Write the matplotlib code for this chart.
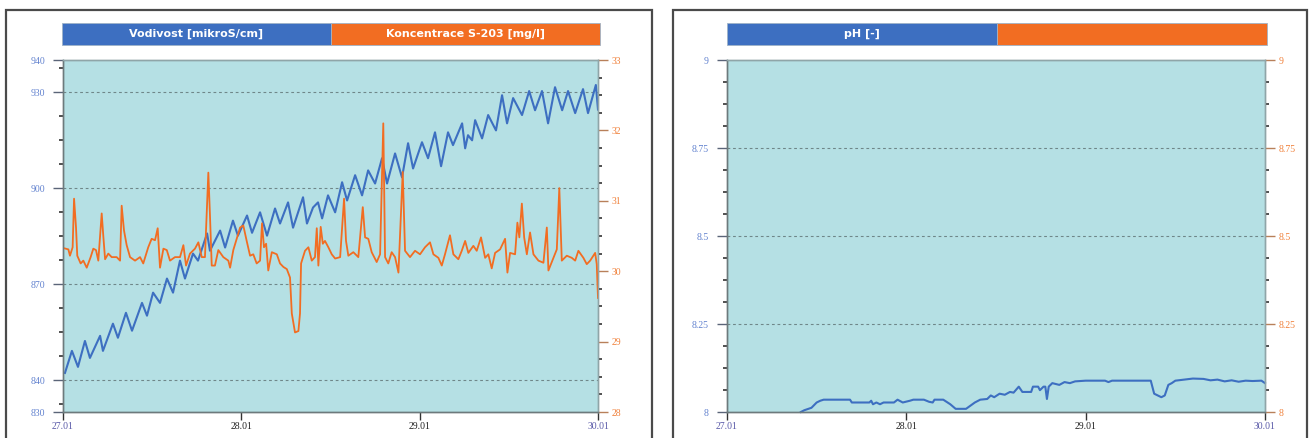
import matplotlib
matplotlib.use("Agg")
import matplotlib.pyplot as plt
from matplotlib.patches import Rectangle
from matplotlib.ticker import FixedLocator, MultipleLocator

# --- data (time = days since 27.01 00:00) ---
cond_t = [0.011, 0.050, 0.084, 0.123, 0.151, 0.208, 0.224, 0.280, 0.308, 0.353,
          0.387, 0.443, 0.471, 0.505, 0.544, 0.583, 0.617, 0.656, 0.684, 0.729,
          0.757, 0.808, 0.824, 0.881, 0.909, 0.953, 0.981, 1.032, 1.060, 1.105,
          1.144, 1.189, 1.217, 1.262, 1.290, 1.346, 1.368, 1.402, 1.430, 1.453,
          1.486, 1.526, 1.565, 1.593, 1.638, 1.677, 1.711, 1.750, 1.789, 1.817,
          1.862, 1.901, 1.935, 1.963, 2.013, 2.047, 2.086, 2.120, 2.159, 2.187,
          2.238, 2.255, 2.271, 2.294, 2.311, 2.350, 2.384, 2.428, 2.462, 2.490,
          2.524, 2.574, 2.614, 2.647, 2.686, 2.720, 2.759, 2.799, 2.832, 2.872,
          2.916, 2.944, 2.988, 3.000]
cond_v = [842.2, 849.1, 844.1, 852.2, 846.9, 853.8, 849.1, 857.6, 853.2, 861.0,
          855.4, 864.1, 860.1, 867.3, 864.1, 871.7, 867.3, 877.3, 871.7, 879.5,
          877.3, 885.8, 880.4, 886.7, 881.4, 889.8, 885.1, 891.4, 886.0, 892.4,
          885.1, 893.6, 888.9, 895.5, 887.6, 897.1, 888.9, 893.9, 895.5, 890.5,
          897.7, 892.4, 901.8, 896.1, 904.0, 897.7, 905.5, 901.4, 909.3, 901.4,
          910.8, 903.3, 914.0, 906.1, 914.3, 909.3, 917.4, 906.8, 917.4, 913.4,
          920.2, 912.4, 916.5, 914.9, 921.2, 915.5, 922.8, 918.0, 929.0, 920.2,
          928.1, 922.8, 930.3, 924.3, 930.3, 920.2, 931.5, 924.3, 930.3, 923.4,
          930.9, 923.4, 932.2, 924.5]

conc_t = [0.000, 0.030, 0.039, 0.054, 0.062, 0.073, 0.080, 0.099, 0.114, 0.133,
          0.155, 0.170, 0.185, 0.198, 0.217, 0.226, 0.236, 0.254, 0.273, 0.301,
          0.320, 0.329, 0.342, 0.357, 0.376, 0.404, 0.432, 0.450, 0.478, 0.497,
          0.516, 0.531, 0.544, 0.563, 0.582, 0.600, 0.628, 0.656, 0.675, 0.690,
          0.712, 0.740, 0.759, 0.778, 0.796, 0.815, 0.824, 0.834, 0.852, 0.871,
          0.899, 0.927, 0.937, 0.955, 0.993, 1.011, 1.030, 1.049, 1.067, 1.086,
          1.105, 1.116, 1.127, 1.139, 1.151, 1.171, 1.199, 1.217, 1.236, 1.255,
          1.273, 1.283, 1.301, 1.320, 1.329, 1.335, 1.357, 1.376, 1.395, 1.413,
          1.423, 1.432, 1.445, 1.457, 1.469, 1.488, 1.507, 1.526, 1.554, 1.576,
          1.587, 1.600, 1.628, 1.656, 1.681, 1.694, 1.712, 1.731, 1.759, 1.778,
          1.796, 1.806, 1.824, 1.843, 1.862, 1.881, 1.905, 1.918, 1.946, 1.974,
          2.002, 2.030, 2.058, 2.077, 2.105, 2.124, 2.142, 2.170, 2.189, 2.217,
          2.236, 2.255, 2.273, 2.301, 2.320, 2.344, 2.367, 2.385, 2.404, 2.423,
          2.451, 2.479, 2.492, 2.507, 2.535, 2.548, 2.559, 2.573, 2.586, 2.601,
          2.619, 2.638, 2.666, 2.694, 2.713, 2.722, 2.750, 2.769, 2.783, 2.797,
          2.825, 2.853, 2.872, 2.890, 2.918, 2.937, 2.956, 2.984, 2.993, 3.000]
conc_v = [30.33, 30.31, 30.22, 30.34, 31.03, 30.62, 30.22, 30.11, 30.15, 30.05,
          30.20, 30.32, 30.30, 30.15, 30.82, 30.50, 30.17, 30.25, 30.20, 30.20,
          30.15, 30.93, 30.58, 30.37, 30.20, 30.15, 30.20, 30.11, 30.34, 30.46,
          30.44, 30.61, 30.05, 30.32, 30.30, 30.15, 30.20, 30.20, 30.37, 30.08,
          30.25, 30.32, 30.41, 30.20, 30.20, 31.40, 30.80, 30.08, 30.08, 30.30,
          30.20, 30.15, 30.05, 30.30, 30.62, 30.65, 30.43, 30.22, 30.24, 30.11,
          30.15, 30.68, 30.34, 30.39, 30.01, 30.27, 30.24, 30.11, 30.06, 30.03,
          29.91, 29.40, 29.13, 29.15, 29.40, 30.11, 30.29, 30.34, 30.15, 30.20,
          30.61, 30.08, 30.63, 30.39, 30.43, 30.34, 30.24, 30.18, 30.20, 31.03,
          30.43, 30.22, 30.27, 30.20, 30.91, 30.48, 30.46, 30.27, 30.13, 30.24,
          32.10, 30.20, 30.11, 30.27, 30.20, 29.98, 31.41, 30.29, 30.20, 30.29,
          30.24, 30.34, 30.41, 30.24, 30.19, 30.08, 30.24, 30.51, 30.24, 30.17,
          30.29, 30.43, 30.26, 30.36, 30.29, 30.48, 30.19, 30.24, 30.04, 30.26,
          30.31, 30.46, 29.98, 30.26, 30.24, 30.69, 30.48, 30.96, 30.48, 30.24,
          30.55, 30.24, 30.15, 30.12, 30.62, 30.01, 30.19, 30.31, 31.18, 30.15,
          30.22, 30.19, 30.15, 30.29, 30.19, 30.10, 30.15, 30.26, 30.10, 29.62]

ph_t = [0.412, 0.431, 0.471, 0.500, 0.520, 0.539, 0.686, 0.696, 0.794, 0.804,
        0.814, 0.833, 0.853, 0.873, 0.931, 0.951, 0.980, 1.020, 1.039, 1.098,
        1.127, 1.147, 1.157, 1.206, 1.245, 1.275, 1.333, 1.382, 1.412, 1.451,
        1.471, 1.490, 1.520, 1.549, 1.578, 1.598, 1.627, 1.647, 1.696, 1.706,
        1.735, 1.745, 1.765, 1.775, 1.784, 1.794, 1.814, 1.853, 1.882, 1.912,
        1.941, 2.000, 2.108, 2.127, 2.147, 2.363, 2.382, 2.422, 2.441, 2.461,
        2.480, 2.500, 2.598, 2.657, 2.696, 2.735, 2.775, 2.814, 2.853, 2.892,
        2.931, 2.980, 3.000]
ph_v = [8.000, 8.005, 8.012, 8.027, 8.032, 8.035, 8.035, 8.027, 8.027, 8.032,
        8.022, 8.027, 8.022, 8.027, 8.027, 8.035, 8.027, 8.032, 8.035, 8.035,
        8.029, 8.027, 8.035, 8.035, 8.022, 8.009, 8.009, 8.027, 8.035, 8.037,
        8.047, 8.042, 8.052, 8.049, 8.057, 8.055, 8.072, 8.057, 8.057, 8.072,
        8.072, 8.062, 8.072, 8.072, 8.037, 8.072, 8.082, 8.077, 8.085, 8.082,
        8.087, 8.089, 8.089, 8.085, 8.089, 8.089, 8.052, 8.042, 8.047, 8.077,
        8.082, 8.089, 8.095, 8.094, 8.090, 8.092, 8.087, 8.090, 8.086, 8.089,
        8.088, 8.089, 8.082]

day_ticks = [0, 1, 2, 3]
day_labels = ["27.01", "28.01", "29.01", "30.01"]
day_label_colors = ["#5a5aa8", "#222222", "#222222", "#5a5aa8"]

# --- style ---
W, H = 1312, 438
BLUE = "#3d6fc1"
ORANGE = "#f26d22"
BG = "#b5e0e4"
BLUE_TXT = "#6282cf"
ORANGE_TXT = "#f0803a"
TICKFONT = "Liberation Serif"


def fx(px):
    return px / W


def fy(py):
    return 1 - py / H


fig = plt.figure(figsize=(W / 100, H / 100), dpi=100)
fig.patch.set_facecolor("white")

# panel frames
for x0, x1 in [(6, 652), (673, 1307)]:
    fig.patches.append(Rectangle((fx(x0), -0.05), fx(x1) - fx(x0), fy(10) + 0.05,
                                 transform=fig.transFigure, fill=False,
                                 ec="#4a4a4a", lw=1.6))


def header(x0, x1, left_text, right_text):
    xm = (x0 + x1) / 2
    for a, b, col, txt in [(x0, xm, BLUE, left_text), (xm, x1, ORANGE, right_text)]:
        fig.patches.append(Rectangle((fx(a), fy(45)), fx(b) - fx(a), fy(23) - fy(45),
                                     transform=fig.transFigure, fc=col,
                                     ec="#9fb3c8", lw=0.6))
        if txt:
            fig.text(fx((a + b) / 2), fy(34), txt, color="white", fontsize=8,
                     fontweight="bold", family="DejaVu Sans",
                     ha="center", va="center")


def make_axes(x0, x1, ylim_l, ylim_r, ticks_l, ticks_r, minor_l, minor_r, grid_levels):
    ax = fig.add_axes([fx(x0), fy(412), fx(x1) - fx(x0), fy(60) - fy(412)])
    ax.set_facecolor(BG)
    ax.set_xlim(0, 3)
    ax.set_ylim(*ylim_l)
    ax2 = ax.twinx()
    ax2.set_ylim(*ylim_r)

    for lvl in grid_levels:
        ax.axhline(lvl, color="#6f8789", lw=0.8, ls=(0, (2.5, 2.5)), zorder=0.5)

    ax.set_xticks(day_ticks)
    ax.set_xticklabels(day_labels, fontsize=7, family=TICKFONT)
    for lbl, c in zip(ax.get_xticklabels(), day_label_colors):
        lbl.set_color(c)
    ax.tick_params(axis="x", length=6, width=1, color="#333333", pad=1)

    ax.yaxis.set_major_locator(FixedLocator(ticks_l))
    ax.yaxis.set_minor_locator(MultipleLocator(minor_l))
    ax.set_yticklabels([f"{v:g}" for v in ticks_l], fontsize=7, family=TICKFONT)
    ax.tick_params(axis="y", which="major", length=7, width=1, color="#5a6478",
                   labelcolor=BLUE_TXT, pad=6)
    ax.tick_params(axis="y", which="minor", length=3, width=1.2, color="#333333")

    ax2.yaxis.set_major_locator(FixedLocator(ticks_r))
    ax2.yaxis.set_minor_locator(MultipleLocator(minor_r))
    ax2.set_yticklabels([f"{v:g}" for v in ticks_r], fontsize=7, family=TICKFONT)
    ax2.tick_params(axis="y", which="major", length=7, width=1, color="#b8805a",
                    labelcolor=ORANGE_TXT, pad=3)
    ax2.tick_params(axis="y", which="minor", length=3, width=1.2, color="#333333")

    for a in (ax, ax2):
        a.spines["left"].set_color("#6d7a7c")
        a.spines["bottom"].set_color("#6d7a7c")
        a.spines["top"].set_color("#8fa5a8")
        a.spines["right"].set_color("#8fa5a8")
        for s in a.spines.values():
            s.set_linewidth(1.0)
    return ax, ax2


# left panel: conductivity + thiosulfate concentration
header(62, 600, "Vodivost [mikroS/cm]", "Koncentrace S-203 [mg/l]")
axL, axL2 = make_axes(63, 598, (830, 940), (28, 33),
                      [830, 840, 870, 900, 930, 940], [28, 29, 30, 31, 32, 33],
                      7.5, 0.25, [840, 870, 900, 930])
axL.yaxis.set_minor_locator(FixedLocator([832.5 + 7.5 * i for i in range(15)]))
axL.plot(cond_t, cond_v, color=BLUE, lw=1.5, solid_joinstyle="round")
axL2.plot(conc_t, conc_v, color=ORANGE, lw=1.3, solid_joinstyle="round")

# right panel: pH
header(727, 1267, "pH [-]", "")
axR, axR2 = make_axes(727, 1265, (8, 9), (8, 9),
                      [8, 8.25, 8.5, 8.75, 9], [8, 8.25, 8.5, 8.75, 9],
                      0.0625, 0.0625, [8.25, 8.5, 8.75])
axR.plot(ph_t, ph_v, color=BLUE, lw=1.5, solid_joinstyle="round", clip_on=False)

fig.savefig("out.png", dpi=100)
